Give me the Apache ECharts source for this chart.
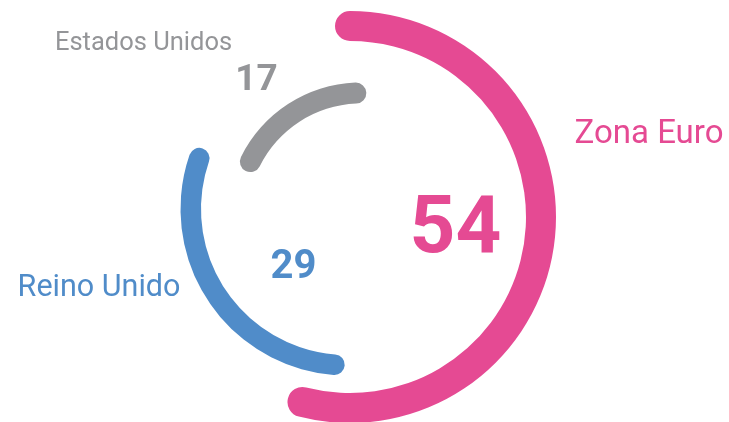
<!DOCTYPE html>
<html>
<head>
<meta charset="utf-8">
<script src="https://cdn.jsdelivr.net/npm/echarts@6/dist/echarts.min.js"></script>
<style>
html,body{margin:0;padding:0;background:#fff;}
#chart{width:729px;height:422px;}
</style>
</head>
<body>
<div id="chart"></div>
<script>
// ---- data ----
const categories = ['Zona Euro', 'Reino Unido', 'Estados Unidos'];
const values = [54, 29, 17];

// ---- layout / style (not data) ----
const colors = ['#E54A93', '#508CC9', '#949598'];
const centers = [[350, 217], [347, 209], [361, 216.5]];
const outerRadii = [206, 166.5, 134];
const widths = [30, 20.5, 21];
const startDeg = [0, 184.6, 296.4]; // clockwise from top
const titleOffsets = [[299, -82.5], [-248, 79.5], [-217.5, -172.5]];
const valueOffsets = [[105.5, 14.5], [-53.5, 58.5], [-104.5, -135.5]];
const titleSizes = [33, 30.5, 25.5];
const valueSizes = [80, 40, 37];
const FONT = "'Roboto', sans-serif";

const series = categories.map((name, i) => {
  const sa = 90 - startDeg[i];
  return {
    type: 'gauge',
    center: centers[i],
    radius: outerRadii[i],
    startAngle: sa,
    endAngle: sa - 360,
    clockwise: true,
    min: 0,
    max: 100,
    progress: { show: true, width: widths[i], roundCap: true, itemStyle: { color: colors[i] } },
    axisLine: { show: false },
    axisTick: { show: false },
    splitLine: { show: false },
    axisLabel: { show: false },
    pointer: { show: false },
    anchor: { show: false },
    title: {
      show: true,
      offsetCenter: titleOffsets[i],
      color: colors[i],
      fontSize: titleSizes[i],
      fontFamily: FONT,
      fontWeight: 'normal'
    },
    detail: {
      show: true,
      offsetCenter: valueOffsets[i],
      color: colors[i],
      fontSize: valueSizes[i],
      fontFamily: FONT,
      fontWeight: 'bold',
      formatter: '{value}',
      valueAnimation: false
    },
    data: [{ name: name, value: values[i] }]
  };
});

const chart = echarts.init(document.getElementById('chart'), null, { renderer: 'canvas' });
chart.setOption({
  animation: false,
  backgroundColor: '#ffffff',
  series: series
});
</script>
</body>
</html>
